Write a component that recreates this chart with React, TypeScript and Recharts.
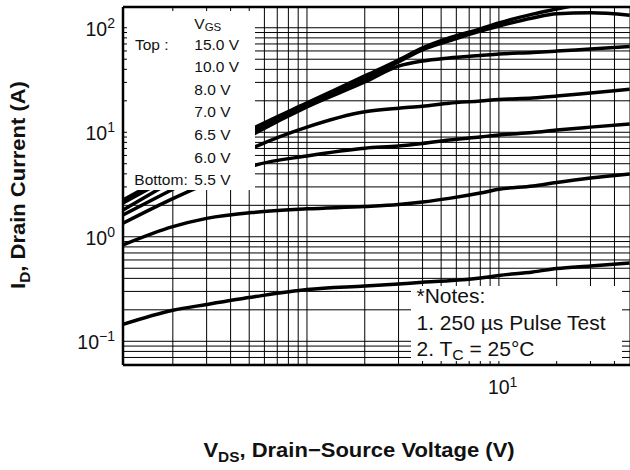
import React from "react"
import { LineChart, Line, XAxis, YAxis, CartesianGrid, ReferenceLine } from "recharts"

// drain-source voltage sample points (V)
const vds = [0.11, 0.2, 0.3, 0.54, 1, 2, 3, 4, 5.5, 8, 10, 15, 20, 30, 48]

// drain current (A) for each gate voltage
const id15 = [2.25, 4.12, 6.23, 11.2, 19.1, 34.6, 49.2, 64.1, 79.9, 97.4, 111, 135, 151, 176, null]
const id10 = [2.11, 3.85, 5.8, 10.5, 18.2, 32.4, 47.1, 61.4, 74.8, 93.1, 104, 124, 136, 139, 132]
const id8 = [1.8, 3.41, 5.25, 9.85, 17.5, 30.3, 43, 48.1, 51.4, 54.3, 56.1, 58, 59.8, 62.7, 66]
const id7 = [1.62, 2.85, 4.19, 7.28, 11.2, 15.7, 17.0, 17.7, 19.0, 19.9, 20.6, 21.3, 22.2, 23.8, 25.8]
const id65 = [1.35, 2.32, 3.23, 4.86, 5.93, 7.03, 7.39, 7.82, 8.44, 9.02, 9.42, 9.95, 10.5, 11.2, 12.0]
const id6 = [0.835, 1.25, 1.5, 1.72, 1.85, 1.95, 2.04, 2.15, 2.33, 2.62, 2.85, 3.06, 3.31, 3.65, 3.99]
const id55 = [0.145, 0.198, 0.225, 0.268, 0.313, 0.338, 0.353, 0.367, 0.379, 0.403, 0.426, 0.46, 0.497, 0.526, 0.561]

const seriesKeys = ["v15", "v10", "v8", "v7", "v65", "v6", "v55"]
const seriesValues = [id15, id10, id8, id7, id65, id6, id55]

const xTicks = [0.2, 0.3, 0.4, 0.5, 0.6, 0.7, 0.8, 0.9, 1, 2, 3, 4, 5, 6, 7, 8, 9, 10, 20, 30, 40]
const yTicks = [
  0.06, 0.07, 0.08, 0.09, 0.1, 0.2, 0.3, 0.4, 0.5, 0.6, 0.7, 0.8, 0.9,
  1, 2, 3, 4, 5, 6, 7, 8, 9, 10, 20, 30, 40, 50, 60, 70, 80, 90, 100,
]
const xLabelTicks = [10]
const yLabelTicks = [0.1, 1, 10, 100]

const legendTitle = "GS"
const legendRows = ["15.0 V", "10.0 V", "8.0 V", "7.0 V", "6.5 V", "6.0 V", "5.5 V"]

const data = vds.map((v, i) => {
  const row: Record<string, number | null> = { vds: v }
  seriesKeys.forEach((k, j) => {
    row[k] = seriesValues[j][i]
  })
  return row
})

const font = "'Liberation Sans', Arial, Helvetica, sans-serif"

const expText = (v: number) => {
  const e = Math.round(Math.log10(v))
  return e < 0 ? `\u2212${-e}` : `${e}`
}

const XTick = (props: any) => {
  const { x, payload } = props
  if (!xLabelTicks.includes(payload.value)) return <g />
  return (
    <text x={x - 11} y={394} fontSize={19.5} fill="#111" fontFamily={font}>
      10
      <tspan dy={-7.5} fontSize={14}>
        {expText(payload.value)}
      </tspan>
    </text>
  )
}

const YTick = (props: any) => {
  const { y, payload } = props
  if (!yLabelTicks.some((t) => Math.abs(t - payload.value) < 1e-9)) return <g />
  return (
    <text x={115} y={y + 8} textAnchor="end" fontSize={19.5} fill="#111" fontFamily={font}>
      10
      <tspan dy={-8} fontSize={14}>
        {expText(payload.value)}
      </tspan>
    </text>
  )
}

export default function App() {
  return (
    <div
      style={{
        position: "fixed",
        left: 0,
        top: 0,
        width: 630,
        height: 470,
        overflow: "hidden",
        background: "#fff",
        fontFamily: font,
      }}
    >
      <style>{"html, body { margin: 0; overflow: hidden; }"}</style>
      <LineChart width={630} height={470} data={data} margin={{ top: 7, right: 0, left: 0, bottom: 0 }}>
        <CartesianGrid stroke="#000" strokeWidth={1} />
        <XAxis
          dataKey="vds"
          type="number"
          scale="log"
          domain={[0.11, 48.2]}
          allowDataOverflow
          ticks={xTicks}
          height={105}
          axisLine={{ stroke: "#000", strokeWidth: 2.5 }}
          tickLine={false}
          tick={<XTick />}
          interval={0}
        />
        <YAxis
          type="number"
          scale="log"
          domain={[0.0593, 158]}
          allowDataOverflow
          ticks={yTicks}
          width={123}
          axisLine={{ stroke: "#000", strokeWidth: 2.5 }}
          tickLine={false}
          tick={<YTick />}
          interval={0}
        />
        <ReferenceLine y={158} stroke="#000" strokeWidth={2.5} ifOverflow="visible" />
        {seriesKeys.map((k) => (
          <Line
            key={k}
            dataKey={k}
            type="monotone"
            stroke="#000"
            strokeWidth={3.5}
            dot={false}
            activeDot={false}
            isAnimationActive={false}
          />
        ))}
      </LineChart>

      <svg
        width={630}
        height={470}
        style={{ position: "absolute", left: 0, top: 0, pointerEvents: "none" }}
        fontFamily={font}
        fill="#111"
      >
        {/* legend box */}
        <rect x={127} y={11} width={128} height={179} fill="#fff" />
        <text x={194.3} y={28.5} fontSize={15.5}>
          V
          <tspan dy={2.5} fontSize={11.5}>
            {legendTitle}
          </tspan>
        </text>
        <text x={135} y={49.5} fontSize={15.5}>
          Top :
        </text>
        <text x={134.3} y={49.5 + 6 * 22.6} fontSize={15.5}>
          Bottom:
        </text>
        {legendRows.map((r, i) => (
          <text key={r} x={194.3} y={49.5 + i * 22.6} fontSize={15.5}>
            {r}
          </text>
        ))}

        {/* notes box */}
        <rect x={411} y={286} width={211} height={75} fill="#fff" />
        <g transform="translate(416.5,0) scale(1.05,1)">
          <text x={0} y={303.5} fontSize={20}>
            *Notes:
          </text>
          <text x={0} y={330} fontSize={20}>
            1. 250 µs Pulse Test
          </text>
          <text x={0} y={356} fontSize={20}>
            2. T
            <tspan dy={4} fontSize={15}>
              C
            </tspan>
            <tspan dy={-4}> = 25°C</tspan>
          </text>
        </g>

        {/* axis titles */}
        <text
          transform="translate(359,457) scale(1.1,1)"
          textAnchor="middle"
          fontSize={20}
          fontWeight="bold"
        >
          V
          <tspan dy={5} fontSize={14}>
            DS
          </tspan>
          <tspan dy={-5}>, Drain−Source Voltage (V)</tspan>
        </text>
        <text
          transform="translate(24.5,185) rotate(-90) scale(1.1,1)"
          textAnchor="middle"
          fontSize={20}
          fontWeight="bold"
        >
          I
          <tspan dy={5} fontSize={14}>
            D
          </tspan>
          <tspan dy={-5}>, Drain Current (A)</tspan>
        </text>
      </svg>
    </div>
  )
}
